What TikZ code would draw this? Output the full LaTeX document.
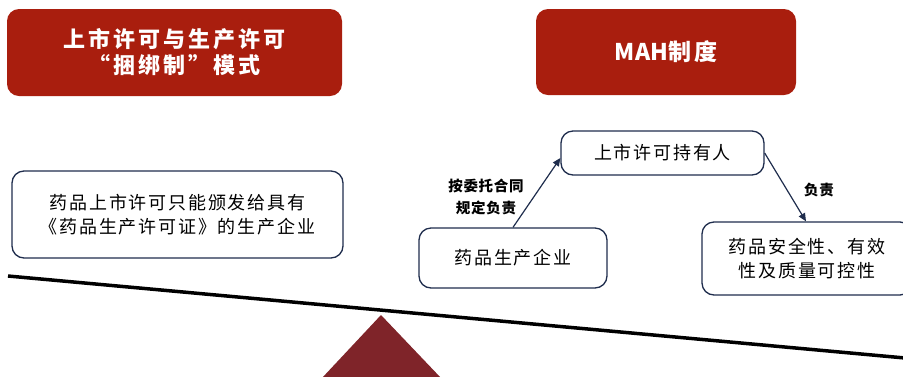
\documentclass[tikz,border=0pt]{standalone}
\usepackage{fontspec}
\newfontfamily\cjk[LetterSpace=10]{Noto Sans CJK SC}
\newfontfamily\cjkt[LetterSpace=14]{Noto Sans CJK SC}
\newfontfamily\cjkn{Noto Sans CJK SC}
\newfontfamily\cjkl[LetterSpace=5]{Noto Sans CJK SC}
\usetikzlibrary{arrows.meta}
\definecolor{tred}{HTML}{A91E0E}
\definecolor{navy}{HTML}{1F2D4D}
\definecolor{fulc}{HTML}{7F2429}
\tikzset{
  titlebox/.style={rectangle, rounded corners=12pt, fill=tred, text=white, align=center, inner sep=0pt, font=\cjkt\bfseries\fontsize{22}{26}\selectfont},
  wbox/.style={rectangle, rounded corners=12pt, draw=navy, line width=1.3pt, fill=white, align=center, inner sep=0pt, font=\cjk\fontsize{18}{24}\selectfont},
  lbl/.style={align=center, inner sep=0pt, font=\cjkl\bfseries\fontsize{14.5}{22}\selectfont},
  conn/.style={draw=navy, line width=1.2pt, -{Triangle[length=8pt,width=7pt]}}
}
\begin{document}
\begin{tikzpicture}[x=1pt,y=-1pt]
\useasboundingbox (0,0) rectangle (903,376);
\clip (0,0) rectangle (903,376);
% beam and fulcrum
\coordinate (bl) at (8,276);
\coordinate (br) at (905,358);
\coordinate (tA) at (381,315);
\coordinate (tB) at (322,378);
\coordinate (tC) at (441,378);
\fill[fulc] (tA) -- (tB) -- (tC) -- cycle;
\draw[black, line width=3.5pt] (bl) -- (br);
% titles
\node[titlebox, minimum width=335pt, minimum height=87pt] (t1) at (174.5,52.5) {上市许可与生产许可\\“捆绑制”模式};
\node[titlebox, minimum width=260pt, minimum height=86pt, font=\cjkn\bfseries\fontsize{23}{26}\selectfont] (t2) at (666,52) {MAH制\hspace{3pt}度};
% boxes
\node[wbox, minimum width=331pt, minimum height=87pt] (left) at (177.5,214.5) {药品上市许可只能颁发给具有\\《药品生产许可证》的生产企业};
\node[wbox, minimum width=203pt, minimum height=44pt] (holder) at (662.5,153) {上市许可持有人};
\node[wbox, minimum width=188pt, minimum height=60pt] (prod) at (513,258) {药品生产企业};
\node[wbox, minimum width=210pt, minimum height=73pt, text width=180pt] (qual) at (807,258.5) {药品安全性、有效\\性及质量可控性};
% connectors
\draw[conn] (prod.north) -- ([yshift=-5pt]holder.west);
\draw[conn] (holder.east) -- ([xshift=-1pt]qual.north);
% labels
\node[lbl] (l1) at (486,197) {按委托合同\\规定负责};
\node[lbl] (l2) at (819,190) {负责};
\end{tikzpicture}
\end{document}
